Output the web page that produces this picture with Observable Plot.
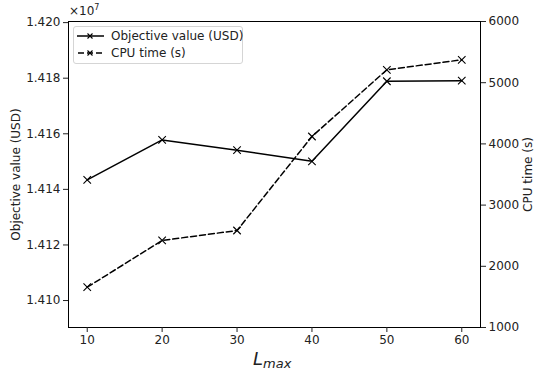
<!DOCTYPE html>
<html><head><meta charset="utf-8">
<script src="https://cdn.jsdelivr.net/npm/d3@7"></script>
<script src="https://cdn.jsdelivr.net/npm/@observablehq/plot@0.6"></script>
<style>
body{margin:0;background:#fff;}
#wrap{position:relative;width:534px;height:379px;font-family:"DejaVu Sans",sans-serif;color:#222;}
#wrap svg.plot{position:absolute;left:0;top:0;}
.lbl{position:absolute;white-space:nowrap;}
#legend{position:absolute;left:73px;top:26px;width:168px;height:36px;border:1px solid #d5d5d5;border-radius:3px;background:rgba(255,255,255,0.8);font-size:12px;}
#legend .row{position:absolute;left:0;height:16px;display:flex;align-items:center;white-space:nowrap;}
#legend svg{margin-left:3px;margin-right:7px;flex:none;}
</style></head><body><div id="wrap"></div>
<script>
const lmax = [10, 20, 30, 40, 50, 60];
const objective = [14143400, 14157800, 14154100, 14150100, 14178900, 14179100];
const cpuTime = [1658, 2422, 2585, 4121, 5211, 5374];
const xTicks = [10, 20, 30, 40, 50, 60];
const objTicks = [14100000, 14120000, 14140000, 14160000, 14180000, 14200000];
const cpuTicks = [1000, 2000, 3000, 4000, 5000, 6000];
const seriesNames = ["Objective value (USD)", "CPU time (s)"];
const leftLabel = "Objective value (USD)";
const rightLabel = "CPU time (s)";

const W = 534, H = 379, mL = 68, mR = 54, mT = 21, mB = 52;
const objRows = lmax.map((x, i) => ({x, y: objective[i]}));
const cpuRows = lmax.map((x, i) => ({x, y: cpuTime[i]}));
const common = {
  width: W, height: H, marginLeft: mL, marginRight: mR, marginTop: mT, marginBottom: mB,
  className: "plot",
  style: {fontFamily: '"DejaVu Sans", sans-serif', fontSize: "12px", color: "#222", background: "transparent", overflow: "visible"}
};

const p1 = Plot.plot({...common,
  x: {domain: [7.5, 62.5]},
  y: {domain: [14090300, 14200400]},
  marks: [
    Plot.frame({stroke: "#000", strokeWidth: 1}),
    Plot.axisX({ticks: xTicks, tickSize: 5, tickPadding: 3, label: null}),
    Plot.axisY({ticks: objTicks, tickSize: 5, tickPadding: 3, tickFormat: d => (d / 1e7).toFixed(3),
      label: leftLabel, labelAnchor: "center", labelArrow: "none", labelOffset: 57}),
    Plot.line(objRows, {x: "x", y: "y", stroke: "#000", strokeWidth: 1.5}),
    Plot.dot(objRows, {x: "x", y: "y", symbol: "times", r: 3.5, stroke: "#000", strokeWidth: 1.1})
  ]
});

const p2 = Plot.plot({...common,
  x: {domain: [7.5, 62.5], axis: null},
  y: {domain: [1000, 6000]},
  marks: [
    Plot.axisY({anchor: "right", ticks: cpuTicks, tickSize: 5, tickPadding: 3, tickFormat: d3.format("d"),
      label: rightLabel, labelAnchor: "center", labelArrow: "none", labelOffset: 51}),
    Plot.line(cpuRows, {x: "x", y: "y", stroke: "#000", strokeWidth: 1.5, strokeDasharray: "6,3"}),
    Plot.dot(cpuRows, {x: "x", y: "y", symbol: "times", r: 3.5, stroke: "#000", strokeWidth: 1.1})
  ]
});

const wrap = document.getElementById("wrap");
wrap.appendChild(p1);
wrap.appendChild(p2);

const exp = document.createElement("div");
exp.className = "lbl";
exp.style.cssText = "left:69px;top:3px;font-size:12px;";
exp.innerHTML = "×10<sup style='font-size:8px;vertical-align:5px'>7</sup>";
wrap.appendChild(exp);

const xl = document.createElement("div");
xl.className = "lbl";
xl.style.cssText = "left:253px;top:348px;font-size:18px;font-style:italic;";
xl.innerHTML = "L<span style='font-size:13px;position:relative;top:3px'>max</span>";
wrap.appendChild(xl);

const legend = document.createElement("div");
legend.id = "legend";
const dashes = [null, "6,3"];
seriesNames.forEach((name, i) => {
  const row = document.createElement("div");
  row.className = "row";
  row.style.top = (1 + i * 17) + "px";
  row.innerHTML = `<svg width="27" height="12"><line x1="0" x2="27" y1="6" y2="6" stroke="#000" stroke-width="1.5" ${dashes[i] ? `stroke-dasharray="${dashes[i]}" stroke-dashoffset="-1"` : ""}/><path d="M10.5,3.5L15.5,8.5M10.5,8.5L15.5,3.5" stroke="#000" stroke-width="1.1"/></svg><span>${name}</span>`;
  legend.appendChild(row);
});
wrap.appendChild(legend);
</script></body></html>
